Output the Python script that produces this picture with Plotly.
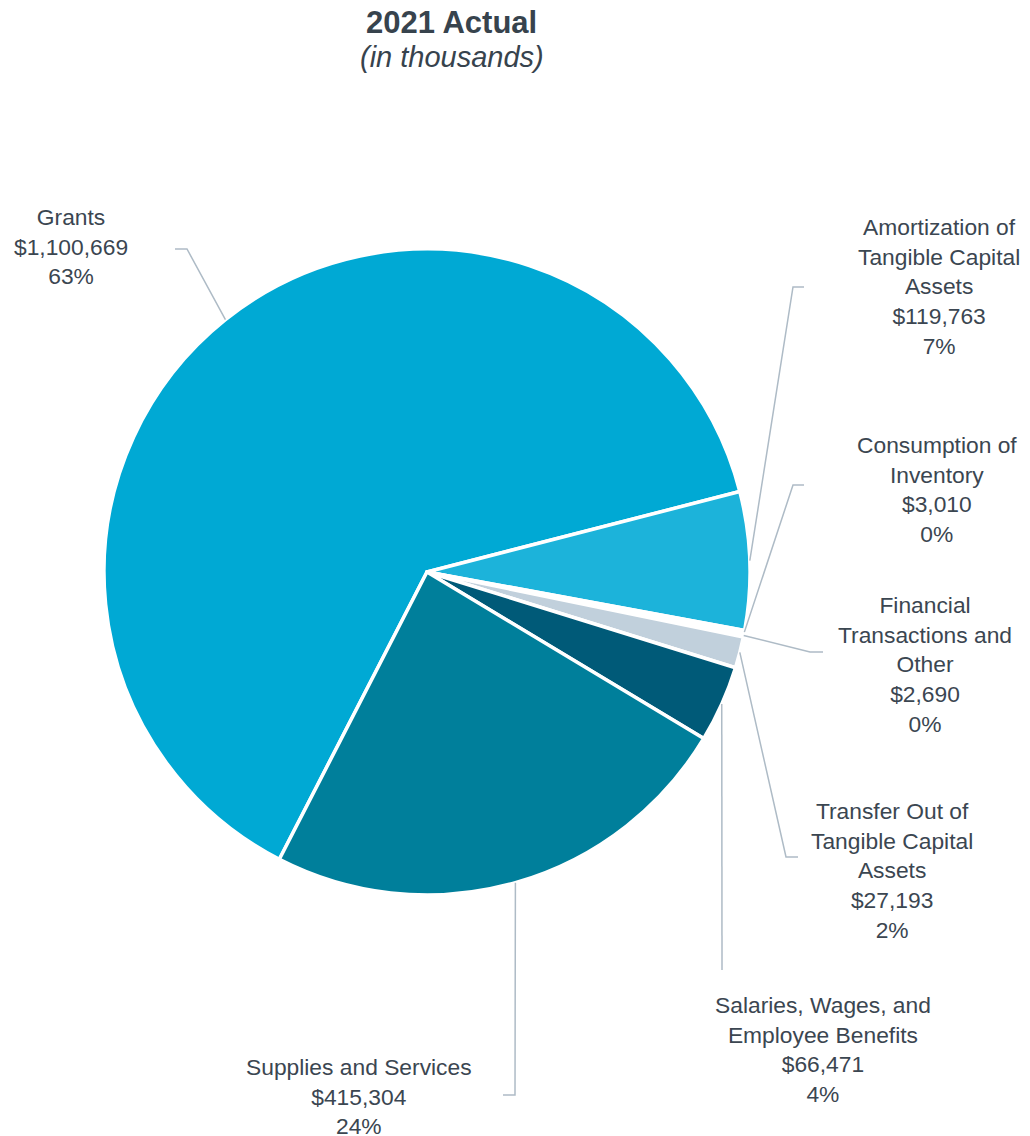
import math
import plotly.graph_objects as go

# ---- data ----
categories = [
    "Grants",
    "Amortization of Tangible Capital Assets",
    "Consumption of Inventory",
    "Financial Transactions and Other",
    "Transfer Out of Tangible Capital Assets",
    "Salaries, Wages, and Employee Benefits",
    "Supplies and Services",
]
display_names = [
    "Grants",
    "Amortization of<br>Tangible Capital<br>Assets",
    "Consumption of<br>Inventory",
    "Financial<br>Transactions and<br>Other",
    "Transfer Out of<br>Tangible Capital<br>Assets",
    "Salaries, Wages, and<br>Employee Benefits",
    "Supplies and Services",
]
values = [1100669, 119763, 3010, 2690, 27193, 66471, 415304]

# ---- styles / layout ----
W, H = 1030, 1136
colors = ["#00A9D4", "#1CB3DA", "#FFFFFF", "#F2F5F7", "#C1D0DC", "#005A78", "#007F9B"]
text_color = "#3B4651"
line_color = "#AEBBC6"
font_family = "Liberation Sans, Arial, sans-serif"
label_size = 22.8
cx, cy, R = 427, 572, 323
rotation = 207.2

# label block centers (px) and leader elbows/ends (px)
label_pos = [(71, 246), (939, 286), (937, 490), (925, 664), (892, 870), (823, 1049), (359, 1096)]
elbows = [(187, 249), (793, 287), (793, 485), (810, 652), (786, 857), (722, 970), (515, 1095)]
ends = [(175, 249), (804, 287), (804, 485), (823, 652), (798, 857), (722, 970), (503, 1095)]

def px(x):
    return x / W

def py(y):
    return 1 - y / H

fig = go.Figure(
    go.Pie(
        labels=categories,
        values=values,
        sort=False,
        direction="clockwise",
        rotation=rotation,
        marker=dict(colors=colors, line=dict(color="white", width=3.5)),
        textinfo="none",
        hoverinfo="label+value+percent",
        domain=dict(x=[px(cx - R), px(cx + R)], y=[py(cy + R), py(cy - R)]),
        showlegend=False,
    )
)

total = sum(values)
shapes = []
annotations = []
start = rotation
for i, v in enumerate(values):
    frac = v / total
    mid = start + frac * 360 / 2
    start += frac * 360
    a = math.radians(mid)
    sx = cx + R * math.sin(a)
    sy = cy - R * math.cos(a)
    ex, ey = elbows[i]
    fx, fy = ends[i]
    path = f"M {px(sx)} {py(sy)} L {px(ex)} {py(ey)} L {px(fx)} {py(fy)}"
    shapes.append(dict(type="path", xref="paper", yref="paper", path=path,
                       line=dict(color=line_color, width=1.5)))
    pct = round(frac * 100)
    txt = f"{display_names[i]}<br>${v:,}<br>{pct}%"
    lx, ly = label_pos[i]
    annotations.append(dict(x=px(lx), y=py(ly), xref="paper", yref="paper", text=txt,
                            showarrow=False, xanchor="center", yanchor="middle", align="center",
                            font=dict(size=label_size, color=text_color, family=font_family)))

annotations.append(dict(x=px(451), y=py(22), xref="paper", yref="paper", text="<b>2021 Actual</b>",
                        showarrow=False, xanchor="center", yanchor="middle",
                        font=dict(size=31, color="#37434D", family=font_family)))
annotations.append(dict(x=px(452), y=py(57), xref="paper", yref="paper", text="<i>(in thousands)</i>",
                        showarrow=False, xanchor="center", yanchor="middle",
                        font=dict(size=29, color="#37434D", family=font_family)))

fig.update_layout(
    width=W, height=H,
    margin=dict(l=0, r=0, t=0, b=0),
    paper_bgcolor="white", plot_bgcolor="white",
    shapes=shapes, annotations=annotations,
)

fig.write_html("out.html")
